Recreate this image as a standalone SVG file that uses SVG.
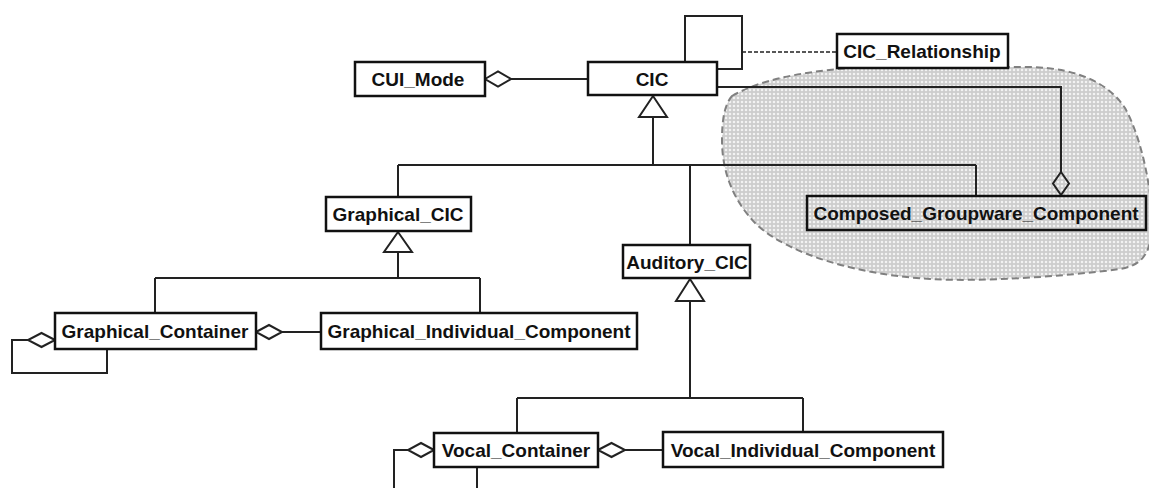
<svg xmlns="http://www.w3.org/2000/svg" width="1149" height="488" viewBox="0 0 1149 488">
<style>
.box{fill:#fff;stroke:#111;stroke-width:2.5}
.boxT{fill:none;stroke:#111;stroke-width:2.5}
.lbl{font-family:"Liberation Sans",Arial,sans-serif;font-weight:bold;font-size:19px;fill:#111;text-anchor:middle}
.ln{fill:none;stroke:#222;stroke-width:2}
.dsh{fill:none;stroke:#222;stroke-width:1.6;stroke-dasharray:4 2}
.dia{fill:#fff;stroke:#222;stroke-width:2}
.diaT{fill:none;stroke:#222;stroke-width:2}
.tri{fill:#fff;stroke:#222;stroke-width:2}
</style>
<defs>
<pattern id="hatch" width="4" height="4" patternUnits="userSpaceOnUse">
<rect width="4" height="4" fill="#cdcdcd"/>
<circle cx="2" cy="2" r="1.3" fill="#f2f2f2"/>
</pattern>
</defs>
<rect width="1149" height="488" fill="#fff"/>
<g id="groupware-area">
<path d="M732,96 C760,80 800,72 850,68 L1030,67 C1080,68 1110,85 1125,108 C1140,135 1150,180 1152,215 C1153,250 1145,265 1120,269 C1060,277 980,282 930,279 C860,275 790,255 757,225 C732,200 722,170 722,140 C722,118 725,104 732,96 Z" fill="url(#hatch)" stroke="#808080" stroke-width="2" stroke-dasharray="7 4"/>
</g>
<g id="connectors">
<line class="ln" x1="511" y1="79" x2="588" y2="79"/>
<polygon class="dia" points="485,79 498,71.5 511,79 498,86.5"/>
<path class="ln" d="M685,62 V16 H742 V69 H717"/>
<line class="dsh" x1="742" y1="52" x2="837" y2="52"/>
<path class="ln" d="M717,87 H1061 V172"/>
<polygon class="diaT" points="1061,172 1069,183.5 1061,195 1053,183.5"/>
<path class="ln" d="M653,117 V165 M398,165 H976 M398,165 V197 M976,165 V196 M690,165 V245"/>
<polygon class="tri" points="653,96 667,117 639,117"/>
<path class="ln" d="M398,252 V278 M155,278 H480 M155,278 V313 M480,278 V313"/>
<polygon class="tri" points="398,232 412,252 384,252"/>
<line class="ln" x1="282" y1="332" x2="321" y2="332"/>
<polygon class="dia" points="256,332 269,325 282,332 269,339"/>
<path class="ln" d="M28,340 H12 V373 H107 V349"/>
<polygon class="dia" points="55,340 41.5,333 28,340 41.5,347"/>
<path class="ln" d="M690,301 V398 M517,398 H803 M517,398 V433 M803,398 V432"/>
<polygon class="tri" points="690,279 704,301 676,301"/>
<line class="ln" x1="625" y1="450" x2="663" y2="450"/>
<polygon class="dia" points="598,450 611.5,443 625,450 611.5,457"/>
<path class="ln" d="M408,450 H394 V488 M477,467 V488"/>
<polygon class="dia" points="434,450 421,443 408,450 421,457"/>
</g>
<g id="node-cui-mode">
<rect class="box" x="355" y="62" width="130" height="34"/>
<text class="lbl" x="418" y="86">CUI_Mode</text>
</g>
<g id="node-cic">
<rect class="box" x="588" y="62" width="129" height="33"/>
<text class="lbl" x="652" y="85.5">CIC</text>
</g>
<g id="node-cic-relationship">
<rect class="box" x="837" y="34" width="171" height="34"/>
<text class="lbl" x="922" y="58">CIC_Relationship</text>
</g>
<g id="node-composed">
<rect class="boxT" x="807" y="196" width="339" height="34"/>
<text class="lbl" x="976" y="220">Composed_Groupware_Component</text>
</g>
<g id="node-graphical-cic">
<rect class="box" x="326" y="197" width="145" height="34"/>
<text class="lbl" x="398" y="221">Graphical_CIC</text>
</g>
<g id="node-auditory-cic">
<rect class="box" x="623" y="245" width="127" height="33"/>
<text class="lbl" x="687" y="268.5">Auditory_CIC</text>
</g>
<g id="node-graphical-container">
<rect class="box" x="55" y="313" width="201" height="36"/>
<text class="lbl" x="155" y="338">Graphical_Container</text>
</g>
<g id="node-graphical-individual">
<rect class="box" x="321" y="313" width="316" height="36"/>
<text class="lbl" x="479" y="338">Graphical_Individual_Component</text>
</g>
<g id="node-vocal-container">
<rect class="box" x="434" y="433" width="164" height="34"/>
<text class="lbl" x="516" y="457">Vocal_Container</text>
</g>
<g id="node-vocal-individual">
<rect class="box" x="663" y="432" width="280" height="35"/>
<text class="lbl" x="803" y="456.5">Vocal_Individual_Component</text>
</g>
</svg>
